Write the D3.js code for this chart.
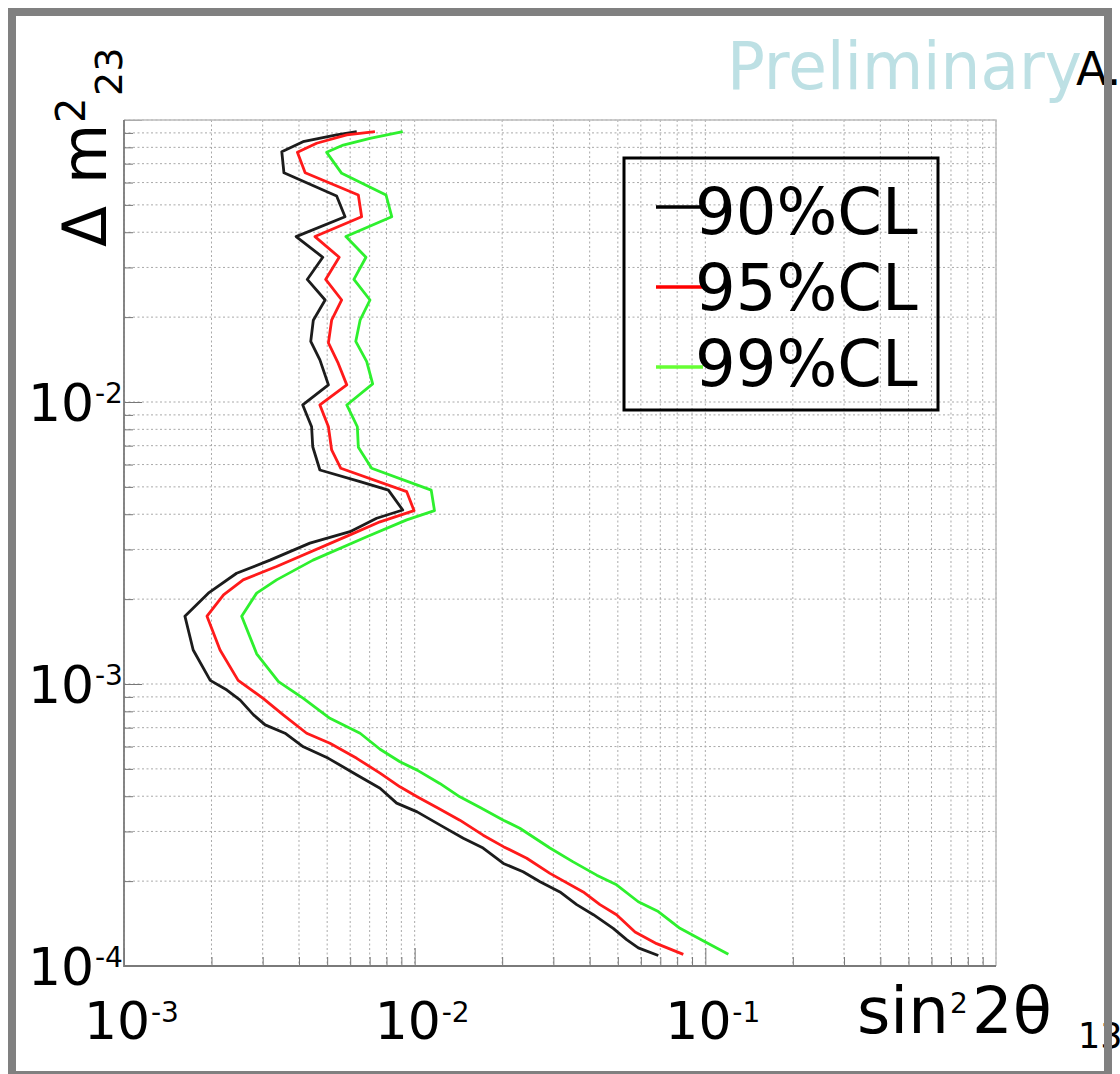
<!DOCTYPE html>
<html lang="en">
<head>
    <meta charset="UTF-8">
    <title>sin2 2theta13 vs dm2 23</title>
    <script src="https://cdn.jsdelivr.net/npm/d3@7/dist/d3.min.js"></script>
    <style>
        body { margin: 0; background: #fff; }
        text { font-family: "DejaVu Sans", sans-serif; fill: #000; }
        .grid line { stroke: #a9a9a9; stroke-width: 1px; stroke-dasharray: 2, 2.5; }
        .tick-axis line { stroke: #777; stroke-width: 1px; }
        .curve { fill: none; stroke-width: 2.8px; stroke-linejoin: round; }
    </style>
</head>
<body>
    <div id="charts"></div>
    <script>
        // contour points: [sin^2 2theta13, delta m^2 23], read top to bottom
        const cl90 = [
            [6.32e-3, 0.0909], [5.39e-3, 0.0885], [4.13e-3, 0.0838], [3.49e-3, 0.0772], [3.55e-3, 0.0650],
            [5.39e-3, 0.0538], [5.76e-3, 0.0454], [3.91e-3, 0.0386], [4.83e-3, 0.0326], [4.27e-3, 0.0272],
            [4.92e-3, 0.0230], [4.48e-3, 0.0195], [4.39e-3, 0.0164], [4.72e-3, 0.0141], [5.05e-3, 0.0115],
            [4.12e-3, 9.76e-3], [4.42e-3, 8.17e-3], [4.46e-3, 6.94e-3], [4.72e-3, 5.74e-3], [6.49e-3, 5.22e-3],
            [8.12e-3, 4.87e-3], [9.10e-3, 4.14e-3], [7.40e-3, 3.87e-3], [5.99e-3, 3.47e-3], [4.36e-3, 3.16e-3],
            [3.18e-3, 2.75e-3], [2.44e-3, 2.47e-3], [1.95e-3, 2.10e-3], [1.62e-3, 1.74e-3], [1.73e-3, 1.32e-3],
            [1.98e-3, 1.03e-3], [2.26e-3, 9.52e-4], [2.51e-3, 8.77e-4], [2.79e-3, 7.77e-4], [3.06e-3, 7.16e-4],
            [3.58e-3, 6.69e-4], [4.14e-3, 5.99e-4], [5.05e-3, 5.45e-4], [6.33e-3, 4.76e-4], [7.60e-3, 4.27e-4],
            [8.67e-3, 3.78e-4], [1.02e-2, 3.52e-4], [1.25e-2, 3.12e-4], [1.47e-2, 2.84e-4], [1.72e-2, 2.62e-4],
            [2.02e-2, 2.31e-4], [2.36e-2, 2.16e-4], [2.70e-2, 1.99e-4], [3.16e-2, 1.83e-4], [3.61e-2, 1.65e-4],
            [4.12e-2, 1.52e-4], [4.82e-2, 1.36e-4], [5.36e-2, 1.24e-4], [5.88e-2, 1.16e-4], [6.89e-2, 1.09e-4]
        ];
        const cl95 = [
            [7.30e-3, 0.0909], [5.84e-3, 0.0885], [4.60e-3, 0.0827], [3.95e-3, 0.0768], [4.20e-3, 0.0650],
            [6.40e-3, 0.0542], [6.57e-3, 0.0454], [4.54e-3, 0.0386], [5.50e-3, 0.0326], [4.94e-3, 0.0272],
            [5.61e-3, 0.0230], [5.18e-3, 0.0195], [5.05e-3, 0.0162], [5.46e-3, 0.0137], [5.84e-3, 0.0115],
            [4.72e-3, 9.76e-3], [5.05e-3, 8.17e-3], [5.18e-3, 6.76e-3], [5.57e-3, 5.82e-3], [9.39e-3, 4.81e-3],
            [9.95e-3, 4.12e-3], [7.60e-3, 3.76e-3], [5.99e-3, 3.38e-3], [3.35e-3, 2.61e-3], [2.57e-3, 2.34e-3],
            [2.20e-3, 2.07e-3], [1.93e-3, 1.74e-3], [2.14e-3, 1.32e-3], [2.47e-3, 1.03e-3], [3.01e-3, 8.89e-4],
            [3.53e-3, 7.77e-4], [4.25e-3, 6.69e-4], [5.11e-3, 6.16e-4], [6.32e-3, 5.45e-4], [7.60e-3, 4.83e-4],
            [8.90e-3, 4.32e-4], [1.02e-2, 3.98e-4], [1.21e-2, 3.62e-4], [1.43e-2, 3.29e-4], [1.72e-2, 2.91e-4],
            [2.02e-2, 2.65e-4], [2.43e-2, 2.41e-4], [2.92e-2, 2.13e-4], [3.80e-2, 1.83e-4], [4.34e-2, 1.65e-4],
            [4.95e-2, 1.52e-4], [5.73e-2, 1.32e-4], [6.80e-2, 1.20e-4], [8.40e-2, 1.10e-4]
        ];
        const cl99 = [
            [9.10e-3, 0.0909], [7.02e-3, 0.0861], [5.68e-3, 0.0815], [4.98e-3, 0.0768], [5.61e-3, 0.0647],
            [7.97e-3, 0.0542], [8.34e-3, 0.0454], [5.80e-3, 0.0386], [6.80e-3, 0.0326], [6.18e-3, 0.0272],
            [7.02e-3, 0.0230], [6.49e-3, 0.0195], [6.27e-3, 0.0164], [6.84e-3, 0.0139], [7.17e-3, 0.0116],
            [5.84e-3, 9.76e-3], [6.35e-3, 8.17e-3], [6.40e-3, 6.91e-3], [7.11e-3, 5.82e-3], [1.14e-2, 4.87e-3],
            [1.17e-2, 4.12e-3], [9.39e-3, 3.82e-3], [6.84e-3, 3.33e-3], [4.47e-3, 2.75e-3], [3.35e-3, 2.34e-3],
            [2.86e-3, 2.10e-3], [2.54e-3, 1.74e-3], [2.86e-3, 1.28e-3], [3.40e-3, 1.02e-3], [4.14e-3, 8.89e-4],
            [5.11e-3, 7.56e-4], [6.49e-3, 6.69e-4], [7.60e-3, 5.87e-4], [8.90e-3, 5.30e-4], [1.02e-2, 4.95e-4],
            [1.22e-2, 4.44e-4], [1.43e-2, 3.98e-4], [1.68e-2, 3.65e-4], [2.02e-2, 3.29e-4], [2.30e-2, 3.08e-4],
            [2.92e-2, 2.62e-4], [3.51e-2, 2.34e-4], [4.23e-2, 2.10e-4], [4.95e-2, 1.94e-4], [5.88e-2, 1.69e-4],
            [6.89e-2, 1.56e-4], [8.18e-2, 1.36e-4], [9.97e-2, 1.22e-4], [0.120, 1.10e-4]
        ];
        const seriesNames = ["90%CL", "95%CL", "99%CL"];
        const xTickExps = [-3, -2, -1];
        const yTickExps = [-4, -3, -2];

        // styles (kept apart from the data)
        const curveColors = ["#1c1c1c", "#ff1a1a", "#2ef02e"];
        const legendColors = ["#000000", "#ff0000", "#66ff33"];

        const W = 1120, H = 1074;
        const plot = { left: 124, right: 996, top: 120, bottom: 966 };

        const x = d3.scaleLog().domain([1e-3, 1]).range([plot.left, plot.right]);
        const y = d3.scaleLog().domain([1e-4, 1e-1]).range([plot.bottom, plot.top]);

        const svg = d3.select("#charts")
            .append("svg")
            .attr("width", W)
            .attr("height", H);

        svg.append("rect").attr("width", W).attr("height", H).attr("fill", "#fff");

        // dotted grid, one line per 1..9 x 10^n
        const grid = svg.append("g").attr("class", "grid");
        grid.selectAll(".gx").data(x.ticks()).join("line")
            .attr("x1", d => x(d)).attr("x2", d => x(d))
            .attr("y1", plot.top).attr("y2", plot.bottom);
        grid.selectAll(".gy").data(y.ticks()).join("line")
            .attr("class", "gy")
            .attr("x1", plot.left).attr("x2", plot.right)
            .attr("y1", d => y(d)).attr("y2", d => y(d));

        // inward ticks, minor and major
        const isMajor = d => Math.abs(Math.log10(d) - Math.round(Math.log10(d))) < 1e-6;
        const minorX = x.ticks().filter(d => !isMajor(d));
        const minorY = y.ticks().filter(d => !isMajor(d));
        const majorX = xTickExps.map(e => Math.pow(10, e));
        const majorY = yTickExps.map(e => Math.pow(10, e)).concat([1e-1]);

        function addAxis(axis, tf) {
            const g = svg.append("g").attr("class", "tick-axis").attr("transform", tf).call(axis);
            g.select(".domain").remove();
            return g;
        }
        addAxis(d3.axisBottom(x).tickValues(minorX).tickSize(-9).tickFormat(""), "translate(0," + plot.bottom + ")");
        addAxis(d3.axisBottom(x).tickValues(majorX).tickSize(-18).tickFormat(""), "translate(0," + plot.bottom + ")");
        addAxis(d3.axisLeft(y).tickValues(minorY).tickSize(-9).tickFormat(""), "translate(" + plot.left + ",0)");
        addAxis(d3.axisLeft(y).tickValues(majorY).tickSize(-18).tickFormat(""), "translate(" + plot.left + ",0)");

        // plot frame
        svg.append("path")
            .attr("d", "M" + plot.left + "," + plot.top + "H" + plot.right + "V" + plot.bottom)
            .attr("fill", "none").attr("stroke", "#bdbdbd").attr("stroke-width", 1.5);
        svg.append("path")
            .attr("d", "M" + plot.left + "," + plot.top + "V" + plot.bottom + "H" + plot.right)
            .attr("fill", "none").attr("stroke", "#7a7a7a").attr("stroke-width", 1.8);

        // contours
        const line = d3.line().x(d => x(d[0])).y(d => y(d[1]));
        [cl90, cl95, cl99].forEach((s, i) => {
            svg.append("path").datum(s)
                .attr("class", "curve")
                .attr("stroke", curveColors[i])
                .attr("d", line);
        });

        // x tick labels 10^n
        xTickExps.forEach(e => {
            const px = x(Math.pow(10, e));
            const t = svg.append("text").attr("x", px - 40).attr("y", 1039).style("font-size", "52px");
            t.append("tspan").text("10");
            t.append("tspan").attr("x", px + 27).attr("y", 1022).style("font-size", "28px").text(String(e));
        });

        // y tick labels 10^n
        yTickExps.forEach(e => {
            const py = y(Math.pow(10, e));
            const t = svg.append("text").attr("x", 28).attr("y", py + 19).style("font-size", "52px");
            t.append("tspan").text("10");
            t.append("tspan").attr("x", 95).attr("y", py + 1).style("font-size", "28px").text(String(e));
        });

        // axis titles
        const xt = svg.append("text").attr("y", 1033);
        xt.append("tspan").attr("x", 857).style("font-size", "64px").text("sin");
        xt.append("tspan").attr("x", 950).attr("y", 1013).style("font-size", "28px").text("2");
        xt.append("tspan").attr("x", 972).attr("y", 1033).style("font-size", "64px").text("2θ");
        xt.append("tspan").attr("x", 1078).attr("y", 1048).style("font-size", "35px").text("13");

        const yt = svg.append("text").attr("transform", "translate(106,247) rotate(-90)");
        yt.append("tspan").attr("x", 0).attr("y", 0).style("font-size", "60px").text("Δ");
        yt.append("tspan").attr("x", 63).attr("y", 0).style("font-size", "62px").text("m");
        yt.append("tspan").attr("x", 124).attr("y", -21).style("font-size", "40px").text("2");
        yt.append("tspan").attr("x", 151).attr("y", 16).style("font-size", "38px").text("23");

        // legend
        const legend = svg.append("g");
        legend.append("rect")
            .attr("x", 624).attr("y", 158).attr("width", 314).attr("height", 252)
            .attr("fill", "none").attr("stroke", "#000").attr("stroke-width", 3);
        seriesNames.forEach((name, i) => {
            legend.append("line")
                .attr("x1", 656).attr("x2", 703)
                .attr("y1", 207 + i * 80).attr("y2", 207 + i * 80)
                .attr("stroke", legendColors[i]).attr("stroke-width", 3.5);
            legend.append("text")
                .attr("x", 695).attr("y", 233.5 + i * 76)
                .style("font-size", "64px")
                .text(name);
        });

        // watermark and label
        svg.append("text")
            .attr("x", 727).attr("y", 89)
            .attr("textLength", 355).attr("lengthAdjust", "spacingAndGlyphs")
            .style("font-size", "65px").style("fill", "#bde0e4")
            .text("Preliminary");
        svg.append("text")
            .attr("x", 1076).attr("y", 85)
            .style("font-size", "46px")
            .text("A.");

        // outer gray frame
        svg.append("rect")
            .attr("x", 12).attr("y", 12).attr("width", 1096).attr("height", 1063)
            .attr("fill", "none").attr("stroke", "#808080").attr("stroke-width", 8);
    </script>
</body>
</html>
